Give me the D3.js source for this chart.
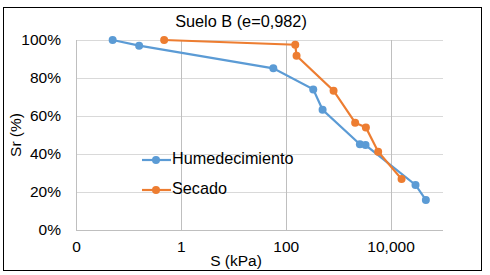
<!DOCTYPE html>
<html><head><meta charset="utf-8">
<script src="https://cdn.jsdelivr.net/npm/d3@7"></script>
<style>body{margin:0;background:#fff;font-family:"Liberation Sans",Arial,sans-serif;}</style>
</head><body><svg id="c" width="490" height="275"></svg>
<script>
const title = "Suelo B (e=0,982)";
const xTicks = [0.01, 1, 100, 10000];
const xTickLabels = ["0", "1", "100", "10,000"];
const yTicks = [0, 0.2, 0.4, 0.6, 0.8, 1.0];
const humS = [0.05, 0.16, 58, 335, 505, 2600, 3330, 29900, 47100];
const humSr = [1.00, 0.97, 0.851, 0.74, 0.633, 0.451, 0.447, 0.237, 0.158];
const secS = [0.48, 152, 161, 818, 2110, 3380, 5800, 16200];
const secSr = [1.00, 0.975, 0.917, 0.733, 0.565, 0.540, 0.412, 0.268];
const seriesNames = ["Humedecimiento", "Secado"];
const colors = ["#5B9BD5", "#ED7D31"];

const svg = d3.select("#c");
svg.append("rect").attr("x",3.5).attr("y",7.5).attr("width",478).attr("height",263)
  .attr("fill","#fff").attr("stroke","#000").attr("stroke-width",1);

const L=76, R=443, T=40, B=230;
const x = d3.scaleLog().domain([0.01, 100000]).range([L, R]);
const y = d3.scaleLinear().domain([0, 1]).range([B, T]);

// horizontal gridlines
svg.append("g").selectAll("line").data(yTicks.filter(d=>d>0)).join("line")
  .attr("x1",L).attr("x2",R).attr("y1",d=>Math.round(y(d))+0.5).attr("y2",d=>Math.round(y(d))+0.5)
  .attr("stroke","#d9d9d9").attr("stroke-width",1);
// vertical gridlines
svg.append("g").selectAll("line").data(xTicks.slice(1)).join("line")
  .attr("x1",d=>Math.round(x(d))+0.5).attr("x2",d=>Math.round(x(d))+0.5).attr("y1",T).attr("y2",B)
  .attr("stroke","#bfbfbf").attr("stroke-width",1);
// axis lines
svg.append("line").attr("x1",L+0.5).attr("x2",L+0.5).attr("y1",T).attr("y2",B).attr("stroke","#bfbfbf");
svg.append("line").attr("x1",L).attr("x2",R).attr("y1",B+0.5).attr("y2",B+0.5).attr("stroke","#bfbfbf");

// y tick labels
const yAxis = d3.axisLeft(y).tickValues(yTicks).tickFormat(d=>Math.round(d*100)+"%").tickSize(0).tickPadding(15);
const gy = svg.append("g").attr("transform",`translate(${L},0)`).call(yAxis);
gy.select(".domain").remove();
gy.selectAll("text").attr("font-size","15.5px").attr("font-family","Liberation Sans, Arial, sans-serif").attr("fill","#000");

// x tick labels
const xAxis = d3.axisBottom(x).tickValues(xTicks).tickFormat((d,i)=>xTickLabels[i]).tickSize(0).tickPadding(11);
const gx = svg.append("g").attr("transform",`translate(0,${B})`).call(xAxis);
gx.select(".domain").remove();
gx.selectAll("text").attr("font-size","15.5px").attr("font-family","Liberation Sans, Arial, sans-serif").attr("fill","#000");

// titles
svg.append("text").attr("x",241).attr("y",23).attr("text-anchor","middle").attr("dominant-baseline","middle")
  .attr("font-size","16.3px").text(title);
svg.append("text").attr("x",236).attr("y",262).attr("text-anchor","middle").attr("dominant-baseline","middle")
  .attr("font-size","15.5px").text("S (kPa)");
svg.append("text").attr("transform","translate(17,135) rotate(-90)").attr("text-anchor","middle").attr("dominant-baseline","middle")
  .attr("font-size","15.5px").text("Sr (%)");

// series
const data = [humS.map((s,i)=>[s,humSr[i]]), secS.map((s,i)=>[s,secSr[i]])];
const line = d3.line().x(d=>x(d[0])).y(d=>y(d[1]));
data.forEach((pts,k)=>{
  svg.append("path").datum(pts).attr("d",line).attr("fill","none").attr("stroke",colors[k]).attr("stroke-width",2.2);
  svg.append("g").selectAll("circle").data(pts).join("circle")
    .attr("cx",d=>x(d[0])).attr("cy",d=>y(d[1])).attr("r",4).attr("fill",colors[k]);
});

// legend
const legY = [160, 190];
seriesNames.forEach((n,k)=>{
  svg.append("line").attr("x1",142).attr("x2",171).attr("y1",legY[k]).attr("y2",legY[k]).attr("stroke",colors[k]).attr("stroke-width",2.2);
  svg.append("circle").attr("cx",156).attr("cy",legY[k]).attr("r",4).attr("fill",colors[k]);
  svg.append("text").attr("x",172).attr("y",legY[k]).attr("dominant-baseline","middle").attr("font-size","16.2px").text(n);
});
</script></body></html>
